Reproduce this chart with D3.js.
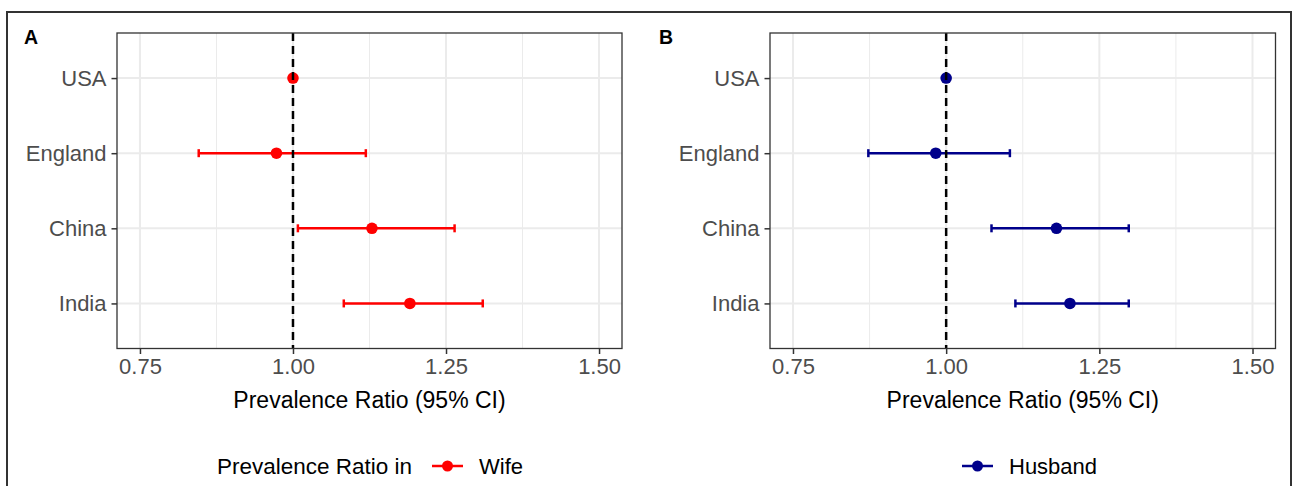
<!DOCTYPE html>
<html>
<head>
<meta charset="utf-8">
<script src="https://cdn.jsdelivr.net/npm/d3@7"></script>
<style>
  body { margin: 0; background: #fff; }
  svg { display: block; font-family: "Liberation Sans", Arial, sans-serif; }
</style>
</head>
<body>
<div id="chart"></div>
<script>
// Data
const countries = ["USA", "England", "China", "India"];
const wifePR = [1.00, 0.973, 1.129, 1.191];
const wifeLower = [1.00, 0.846, 1.008, 1.083];
const wifeUpper = [1.00, 1.119, 1.264, 1.310];
const husbandPR = [1.00, 0.983, 1.180, 1.202];
const husbandLower = [1.00, 0.873, 1.074, 1.113];
const husbandUpper = [1.00, 1.104, 1.298, 1.298];
const xTicks = [0.75, 1.00, 1.25, 1.50];
const xMinor = [0.875, 1.125, 1.375];

const width = 1293;
const height = 486;

const svg = d3.select("#chart")
  .append("svg")
  .attr("width", width)
  .attr("height", height);

// outer frame (bottom edge falls outside the picture)
svg.append("rect")
  .attr("x", 7).attr("y", 12)
  .attr("width", 1284).attr("height", 520)
  .attr("fill", "none")
  .attr("stroke", "#333")
  .attr("stroke-width", 2);

const panels = [
  { tag: "A", left: 117, right: 622, color: "#FF0000", pr: wifePR, lo: wifeLower, hi: wifeUpper },
  { tag: "B", left: 770, right: 1275.5, color: "#00008B", pr: husbandPR, lo: husbandLower, hi: husbandUpper }
];
const plotTop = 33, plotBottom = 348.5;

panels.forEach(p => {
  const g = svg.append("g");

  const x = d3.scaleLinear().domain([0.7125, 1.5375]).range([p.left, p.right]);
  const y = d3.scalePoint().domain(countries).range([plotTop, plotBottom]).padding(0.6);

  // grid
  g.selectAll(".minor").data(xMinor).enter().append("line")
    .attr("x1", d => x(d)).attr("x2", d => x(d))
    .attr("y1", plotTop).attr("y2", plotBottom)
    .attr("stroke", "#EBEBEB").attr("stroke-width", 1);
  g.selectAll(".majorx").data(xTicks).enter().append("line")
    .attr("x1", d => x(d)).attr("x2", d => x(d))
    .attr("y1", plotTop).attr("y2", plotBottom)
    .attr("stroke", "#EBEBEB").attr("stroke-width", 2);
  g.selectAll(".majory").data(countries).enter().append("line")
    .attr("x1", p.left).attr("x2", p.right)
    .attr("y1", d => y(d)).attr("y2", d => y(d))
    .attr("stroke", "#EBEBEB").attr("stroke-width", 2);

  // error bars
  const rows = countries.map((c, i) => ({ c, pr: p.pr[i], lo: p.lo[i], hi: p.hi[i] }));
  const bars = g.selectAll(".bar").data(rows.filter(d => d.hi > d.lo)).enter().append("g");
  bars.append("line")
    .attr("x1", d => x(d.lo)).attr("x2", d => x(d.hi))
    .attr("y1", d => y(d.c)).attr("y2", d => y(d.c))
    .attr("stroke", p.color).attr("stroke-width", 2.5);
  ["lo", "hi"].forEach(k => {
    bars.append("line")
      .attr("x1", d => x(d[k])).attr("x2", d => x(d[k]))
      .attr("y1", d => y(d.c) - 4).attr("y2", d => y(d.c) + 4)
      .attr("stroke", p.color).attr("stroke-width", 2.5);
  });

  // points
  g.selectAll(".pt").data(rows).enter().append("circle")
    .attr("cx", d => x(d.pr)).attr("cy", d => y(d.c))
    .attr("r", 5.8).attr("fill", p.color);

  // reference line
  g.append("line")
    .attr("x1", x(1)).attr("x2", x(1))
    .attr("y1", plotTop).attr("y2", plotBottom)
    .attr("stroke", "#000").attr("stroke-width", 2.5)
    .attr("stroke-dasharray", "8,5");

  // panel border
  g.append("rect")
    .attr("x", p.left).attr("y", plotTop)
    .attr("width", p.right - p.left).attr("height", plotBottom - plotTop)
    .attr("fill", "none").attr("stroke", "#333").attr("stroke-width", 1.3);

  // axes
  const xAxis = g.append("g")
    .attr("transform", `translate(0,${plotBottom})`)
    .call(d3.axisBottom(x).tickValues(xTicks).tickFormat(d3.format(".2f")).tickSize(5.5).tickPadding(4.5));
  const yAxis = g.append("g")
    .attr("transform", `translate(${p.left},0)`)
    .call(d3.axisLeft(y).tickSize(5.5).tickPadding(5));
  [xAxis, yAxis].forEach(a => {
    a.select(".domain").remove();
    a.selectAll(".tick line").attr("stroke", "#333").attr("stroke-width", 1.5);
    a.selectAll(".tick text")
      .attr("fill", "#4D4D4D")
      .style("font-size", "22px")
      .style("font-family", "'Liberation Sans', Arial, sans-serif");
  });

  // axis title
  g.append("text")
    .attr("x", (p.left + p.right) / 2).attr("y", 408)
    .attr("text-anchor", "middle")
    .style("font-size", "23px")
    .text("Prevalence Ratio (95% CI)");

  // panel tag
  g.append("text")
    .attr("x", p.tag === "A" ? 24 : 659).attr("y", 44)
    .style("font-size", "19.5px").style("font-weight", "bold")
    .text(p.tag);
});

// legends
const legendY = 466;
svg.append("text")
  .attr("x", 217).attr("y", legendY + 8)
  .style("font-size", "22.5px")
  .text("Prevalence Ratio in");

const legends = [
  { label: "Wife", x0: 432, color: "#FF0000" },
  { label: "Husband", x0: 962, color: "#00008B" }
];
legends.forEach(l => {
  svg.append("line")
    .attr("x1", l.x0).attr("x2", l.x0 + 31)
    .attr("y1", legendY).attr("y2", legendY)
    .attr("stroke", l.color).attr("stroke-width", 2.5);
  svg.append("circle")
    .attr("cx", l.x0 + 15.5).attr("cy", legendY)
    .attr("r", 5.5).attr("fill", l.color);
  svg.append("text")
    .attr("x", l.x0 + 47).attr("y", legendY + 8)
    .style("font-size", "22px")
    .text(l.label);
});
</script>
</body>
</html>
